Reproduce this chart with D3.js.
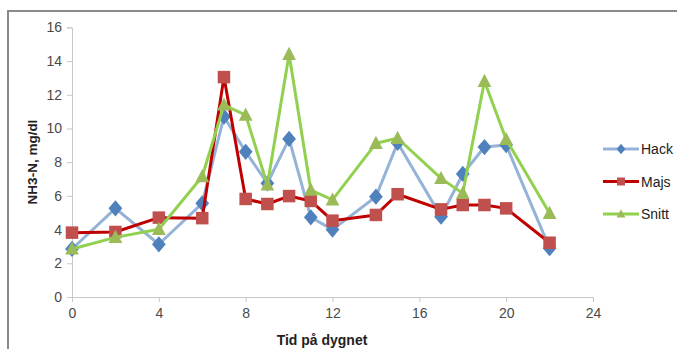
<!DOCTYPE html>
<html><head><meta charset="utf-8">
<script src="https://cdn.jsdelivr.net/npm/d3@7"></script>
<style>body{margin:0;background:#fff}svg{display:block}</style>
</head><body><svg id="c" width="677" height="349"></svg>
<script>
const hours = [0,2,4,6,7,8,9,10,11,12,14,15,17,18,19,20,22];
const hack  = [2.85,5.26,3.13,5.56,10.7,8.62,6.75,9.38,4.73,4.0,5.95,9.15,4.77,7.3,8.9,9.02,2.9];
const majs  = [3.82,3.86,4.71,4.68,13.05,5.82,5.52,5.99,5.7,4.53,4.87,6.1,5.2,5.46,5.46,5.26,3.22];
const snitt = [2.85,3.54,4.02,7.15,11.4,10.8,6.65,14.4,6.35,5.76,9.12,9.42,7.04,6.15,12.8,9.35,4.97];
const xTicks = [0,4,8,12,16,20,24];
const yTicks = [0,2,4,6,8,10,12,14,16];
const seriesNames = ["Hack","Majs","Snitt"];

const FONT = "'Liberation Sans Narrow','Liberation Sans',Arial,sans-serif";
const svg = d3.select("#c");
// outer frame
svg.append("path").attr("d","M8,349 V11 H677").attr("fill","none").attr("stroke","#8a8a8a").attr("stroke-width",2);

const x = d3.scaleLinear().domain([0,24]).range([72,593]);
const y = d3.scaleLinear().domain([0,16]).range([297,27.4]);

const gx = svg.append("g").attr("transform",`translate(0,${y(0)})`)
  .call(d3.axisBottom(x).tickValues(xTicks).tickSize(5).tickPadding(6));
const gy = svg.append("g").attr("transform",`translate(${x(0)},0)`)
  .call(d3.axisLeft(y).tickValues(yTicks).tickSize(5).tickPadding(5));
[gx,gy].forEach(g=>{
  g.selectAll("path,line").attr("stroke","#c8c8c8").attr("stroke-width",1);
  g.selectAll("text").attr("fill","#4a4a4a").style("font-family",FONT).style("font-size","14px");
});
svg.append("text").attr("x",322).attr("y",345).attr("text-anchor","middle")
  .style("font-family",FONT).style("font-size","14px").style("font-weight","bold").attr("fill","#222")
  .text("Tid på dygnet");
svg.append("text").attr("transform","translate(37,162) rotate(-90)").attr("text-anchor","middle")
  .style("font-family",FONT).style("font-size","13.5px").style("font-weight","bold").attr("fill","#222")
  .text("NH3-N, mg/dl");

const series = [
  {name:seriesNames[0], vals:hack,  line:"#95b3d7", mark:"#4f81bd", shape:"diamond"},
  {name:seriesNames[1], vals:majs,  line:"#c00000", mark:"#c0504d", shape:"square"},
  {name:seriesNames[2], vals:snitt, line:"#92d050", mark:"#9bbb59", shape:"triangle"}
];
function marker(g, shape, cx, cy, color, s){
  if(shape==="diamond"){
    g.append("path").attr("d",`M${cx},${cy-s*0.65} L${cx+s*0.55},${cy} L${cx},${cy+s*0.65} L${cx-s*0.55},${cy} Z`).attr("fill",color);
  } else if(shape==="square"){
    g.append("rect").attr("x",cx-s/2).attr("y",cy-s/2).attr("width",s).attr("height",s).attr("fill",color);
  } else {
    g.append("path").attr("d",`M${cx},${cy-s*0.6} L${cx+s*0.55},${cy+s*0.45} L${cx-s*0.55},${cy+s*0.45} Z`).attr("fill",color);
  }
}
const line = d3.line().x(d=>x(d[0])).y(d=>y(d[1]));
series.forEach(s=>{
  const pts = hours.map((h,i)=>[h,s.vals[i]]);
  const g = svg.append("g");
  g.append("path").attr("d",line(pts)).attr("fill","none").attr("stroke",s.line).attr("stroke-width",3).attr("stroke-linejoin","round");
  pts.forEach(p=>marker(g,s.shape,x(p[0]),y(p[1]),s.mark,12.5));
});
// legend
const ly = d3.scalePoint().domain(seriesNames).range([149,214]);
series.forEach(s=>{
  const g = svg.append("g");
  const yy = ly(s.name);
  g.append("line").attr("x1",603).attr("x2",639).attr("y1",yy).attr("y2",yy).attr("stroke",s.line).attr("stroke-width",3);
  marker(g,s.shape,621,yy,s.mark,8);
  g.append("text").attr("x",641).attr("y",yy+5).style("font-family",FONT).style("font-size","14px").attr("fill","#222").text(s.name);
});
</script></body></html>
